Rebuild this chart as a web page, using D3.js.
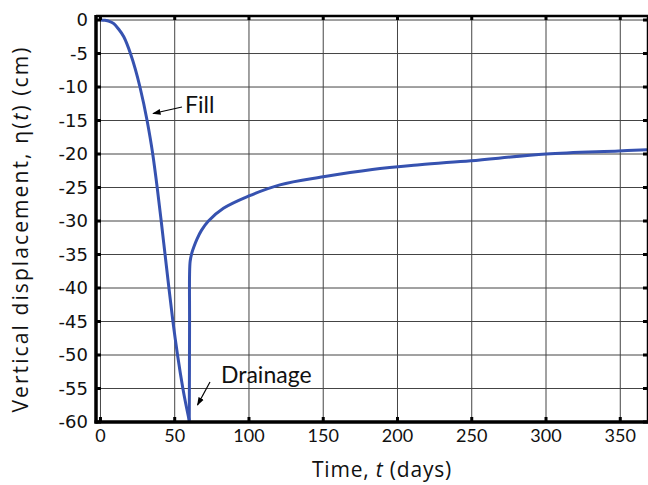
<!DOCTYPE html>
<html>
<head>
<meta charset="utf-8">
<script src="https://cdn.jsdelivr.net/npm/d3@7"></script>
<style>
  body { margin: 0; background: #fff; }
  svg { display: block; }
</style>
</head>
<body>
<svg width="648" height="485"></svg>
<script>
// fill phase (t in days, eta in cm)
const fillT = [0, 3, 6, 9, 12, 15.7, 20.2, 26.6, 31.4, 35.2, 38.2, 40.9, 43.5, 46.1, 48.8, 51.9, 55.5, 59.8];
const fillEta = [0, -0.05, -0.2, -0.55, -1.3, -2.5, -5, -10, -15, -20, -25, -30, -35, -40, -45, -50, -55, -59.8];

// drainage phase
const drainT = [59.8, 60, 60, 60.4, 61.5, 63, 65, 68, 72.7, 82.8, 99.5, 120.8, 150, 183, 215, 249.4, 300, 349, 368];
const drainEta = [-59.8, -45, -38, -36, -34.8, -33.8, -32.7, -31.4, -30, -28.1, -26.3, -24.6, -23.4, -22.3, -21.6, -21, -20, -19.55, -19.35];

const xTicks = [0, 50, 100, 150, 200, 250, 300, 350];
const yTicks = [0, -5, -10, -15, -20, -25, -30, -35, -40, -45, -50, -55, -60];

function draw() {
  const svg = d3.select("svg");
  const left = 96, right = 647, top = 16, bottom = 422;

  const x = d3.scaleLinear().domain([-3, 368]).range([left, right]);
  const y = d3.scaleLinear().domain([-60, 0.6]).range([bottom, top]);

  // grid
  svg.append("g")
    .selectAll("line")
    .data(xTicks)
    .join("line")
    .attr("x1", d => x(d)).attr("x2", d => x(d))
    .attr("y1", top).attr("y2", bottom)
    .attr("stroke", "#444").attr("stroke-width", 1);

  svg.append("g")
    .selectAll("line")
    .data(yTicks)
    .join("line")
    .attr("x1", left).attr("x2", right)
    .attr("y1", d => y(d)).attr("y2", d => y(d))
    .attr("stroke", "#444").attr("stroke-width", 1);

  // curve
  const pts = (ts, es) => ts.map((t, i) => [t, es[i]]);
  const fillLine = d3.line().x(d => x(d[0])).y(d => y(d[1])).curve(d3.curveMonotoneX);
  const drainLine = d3.line().x(d => x(d[0])).y(d => y(d[1])).curve(d3.curveCatmullRom.alpha(0.5));

  svg.append("path")
    .attr("d", fillLine(pts(fillT, fillEta)))
    .attr("fill", "none").attr("stroke", "#3652b0").attr("stroke-width", 3);
  svg.append("path")
    .attr("d", drainLine(pts(drainT, drainEta)))
    .attr("fill", "none").attr("stroke", "#3652b0").attr("stroke-width", 3);

  // frame
  svg.append("line").attr("x1", left).attr("x2", left).attr("y1", top - 1).attr("y2", bottom + 1.5)
    .attr("stroke", "#000").attr("stroke-width", 3.5);
  svg.append("line").attr("x1", left - 1.5).attr("x2", right + 2).attr("y1", bottom).attr("y2", bottom)
    .attr("stroke", "#000").attr("stroke-width", 3.5);
  svg.append("line").attr("x1", left).attr("x2", right + 2).attr("y1", top).attr("y2", top)
    .attr("stroke", "#000").attr("stroke-width", 2.5);
  svg.append("line").attr("x1", right + 1).attr("x2", right + 1).attr("y1", top).attr("y2", bottom)
    .attr("stroke", "#000").attr("stroke-width", 2.5);

  // small inner ticks
  const tk = svg.append("g").attr("fill", "#000");
  tk.append("g").selectAll("rect").data(xTicks).join("rect")
    .attr("x", d => x(d) - 1.5).attr("y", bottom - 5).attr("width", 3).attr("height", 5);
  tk.append("g").selectAll("rect").data(xTicks).join("rect")
    .attr("x", d => x(d) - 1.5).attr("y", top).attr("width", 3).attr("height", 4);
  tk.append("g").selectAll("rect").data(yTicks).join("rect")
    .attr("x", left).attr("y", d => y(d) - 1.5).attr("width", 5).attr("height", 3);
  tk.append("g").selectAll("rect").data(yTicks).join("rect")
    .attr("x", right - 4).attr("y", d => y(d) - 1.5).attr("width", 5).attr("height", 3);

  // tick labels
  svg.append("g")
    .selectAll("text")
    .data(xTicks)
    .join("text")
    .attr("x", d => x(d)).attr("y", 442)
    .attr("text-anchor", "middle")
    .attr("font-family", "Lato, sans-serif").attr("font-size", 18)
    .attr("fill", "#111")
    .text(d => d);

  svg.append("g")
    .selectAll("text")
    .data(yTicks)
    .join("text")
    .attr("x", 88).attr("y", d => y(d))
    .attr("dy", "0.36em")
    .attr("text-anchor", "end")
    .attr("font-family", "'DejaVu Sans', sans-serif").attr("font-size", 18)
    .attr("fill", "#111")
    .text(d => d);

  // axis titles
  const xt = svg.append("text")
    .attr("x", 382).attr("y", 477)
    .attr("text-anchor", "middle")
    .attr("font-family", "'Open Sans', sans-serif").attr("font-size", 21)
    .attr("letter-spacing", 0.8)
    .attr("fill", "#111");
  xt.append("tspan").text("Time,  ");
  xt.append("tspan").attr("font-style", "italic").text("t");
  xt.append("tspan").text(" (days)");

  const yt = svg.append("text")
    .attr("transform", "translate(28,229) rotate(-90)")
    .attr("text-anchor", "middle")
    .attr("font-family", "'Open Sans', sans-serif").attr("font-size", 21)
    .attr("letter-spacing", 2.1)
    .attr("fill", "#111");
  yt.append("tspan").text("Vertical displacement,  η(");
  yt.append("tspan").attr("font-style", "italic").text("t");
  yt.append("tspan").text(") (cm)");

  // annotations
  const defs = svg.append("defs");
  defs.append("marker")
    .attr("id", "ah").attr("viewBox", "0 0 10 10")
    .attr("refX", 9).attr("refY", 5)
    .attr("markerWidth", 7).attr("markerHeight", 7)
    .attr("orient", "auto")
    .append("path").attr("d", "M0,1.5 L10,5 L0,8.5 Z").attr("fill", "#000");

  svg.append("line")
    .attr("x1", 182).attr("y1", 107).attr("x2", 153).attr("y2", 113.5)
    .attr("stroke", "#000").attr("stroke-width", 1.2).attr("marker-end", "url(#ah)");
  svg.append("text")
    .attr("x", 185).attr("y", 113)
    .attr("font-family", "Lato, sans-serif").attr("font-size", 23)
    .attr("fill", "#111").text("Fill");

  svg.append("line")
    .attr("x1", 210).attr("y1", 382).attr("x2", 197.5).attr("y2", 405)
    .attr("stroke", "#000").attr("stroke-width", 1.2).attr("marker-end", "url(#ah)");
  svg.append("text")
    .attr("x", 221).attr("y", 382.5)
    .attr("font-family", "Lato, sans-serif").attr("font-size", 23)
    .attr("fill", "#111").text("Drainage");
}

window.onload = draw;
</script>
</body>
</html>
